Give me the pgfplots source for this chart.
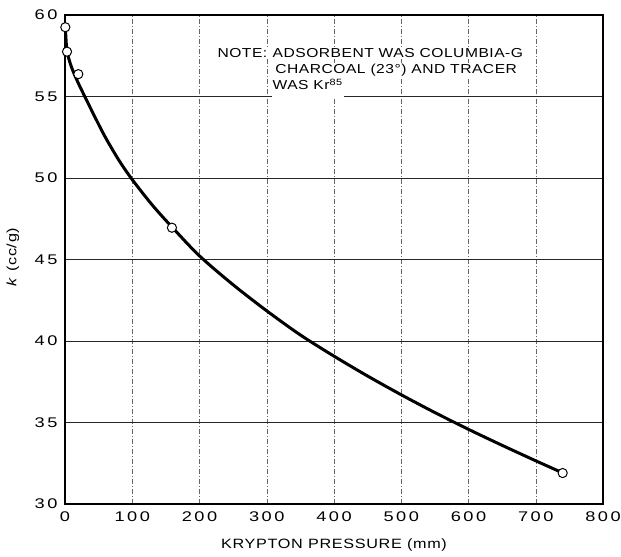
\documentclass[border=0pt]{standalone}
\usepackage{pgfplots}
\pgfplotsset{compat=1.18}
\usetikzlibrary{calc}
\usepackage{fontspec}
\setmainfont{Liberation Sans}
\newfontfamily\leroy[FakeStretch=1.2,LetterSpace=5]{Liberation Sans}
\newfontfamily\leroynote[FakeStretch=1.2,LetterSpace=4]{Liberation Sans}
\newfontfamily\leroydig[FakeStretch=1.3,LetterSpace=18]{Liberation Sans}
\begin{document}
\begin{tikzpicture}
\begin{axis}[name=ax, scale only axis, width=538bp, height=489bp,
  xmin=0, xmax=800, ymin=30, ymax=60,
  xtick={0,100,...,800}, ytick={30,35,...,60},
  major tick length=0pt,
  grid=major,
  x grid style={black!60, line width=0.5bp, dash pattern=on 5bp off 2bp on 1bp off 2bp},
  y grid style={black!85, line width=0.6bp},
  axis line style={line width=1.2bp},
  /pgf/number format/assume math mode=true,
  ticklabel style={font=\leroydig\fontsize{14bp}{16bp}\selectfont},
  xticklabel style={yshift=-4bp},
  yticklabel style={xshift=-4bp},
  xlabel={KRYPTON PRESSURE (mm)},
  ylabel={\textit{k} (cc/g)},
  label style={font=\leroy\fontsize{13.5bp}{16bp}\selectfont},
  xlabel style={at={(axis description cs:0.5,-0.084)}, anchor=center},
  ylabel style={at={(axis description cs:-0.097,0.505)}, anchor=center},
  clip=false,
]
\addplot[black, line width=3bp, smooth, tension=0.5] coordinates {
  (0.5,59.25) (2,58.2) (4,57.6) (8,57.0) (13,56.45) (20,55.8) (30,54.95)
  (45,53.7) (60,52.5) (80,51.1) (100,49.9) (130,48.33) (160,46.95)
  (200,45.22) (250,43.45) (300,41.85) (350,40.37) (400,39.07) (450,37.85)
  (500,36.7) (550,35.61) (600,34.58) (650,33.6) (700,32.65) (740,31.91)
};
\addplot[only marks, mark=*, mark size=4.6bp, mark options={fill=white, draw=black, line width=1bp}] coordinates {
  (0.5,59.25) (3,57.75) (19.8,56.37) (159,46.95) (740,31.9)
};
\node[anchor=base west, fill=white, inner sep=1bp, font=\leroynote\fontsize{13bp}{16bp}\selectfont] at (axis cs:225,57.39) {NOTE:};
\node[anchor=base west, fill=white, inner sep=1bp, font=\leroynote\fontsize{13bp}{16bp}\selectfont] at (axis cs:307,57.39) {ADSORBENT WAS COLUMBIA-G};
\node[anchor=base west, fill=white, inner sep=1bp, font=\leroynote\fontsize{13bp}{16bp}\selectfont] at (axis cs:311,56.44) {CHARCOAL (23°) AND TRACER};
\node[anchor=base west, fill=white, inner xsep=1bp, inner ysep=1bp, text depth=6bp, font=\leroynote\fontsize{13bp}{16bp}\selectfont] at (axis cs:307,55.40) {WAS Kr\textsuperscript{85}};
\end{axis}
\pgfresetboundingbox
\path (ax.south west) ++(-65bp,-53bp) rectangle ($(ax.north east)+(18bp,15bp)$);
\end{tikzpicture}
\end{document}
